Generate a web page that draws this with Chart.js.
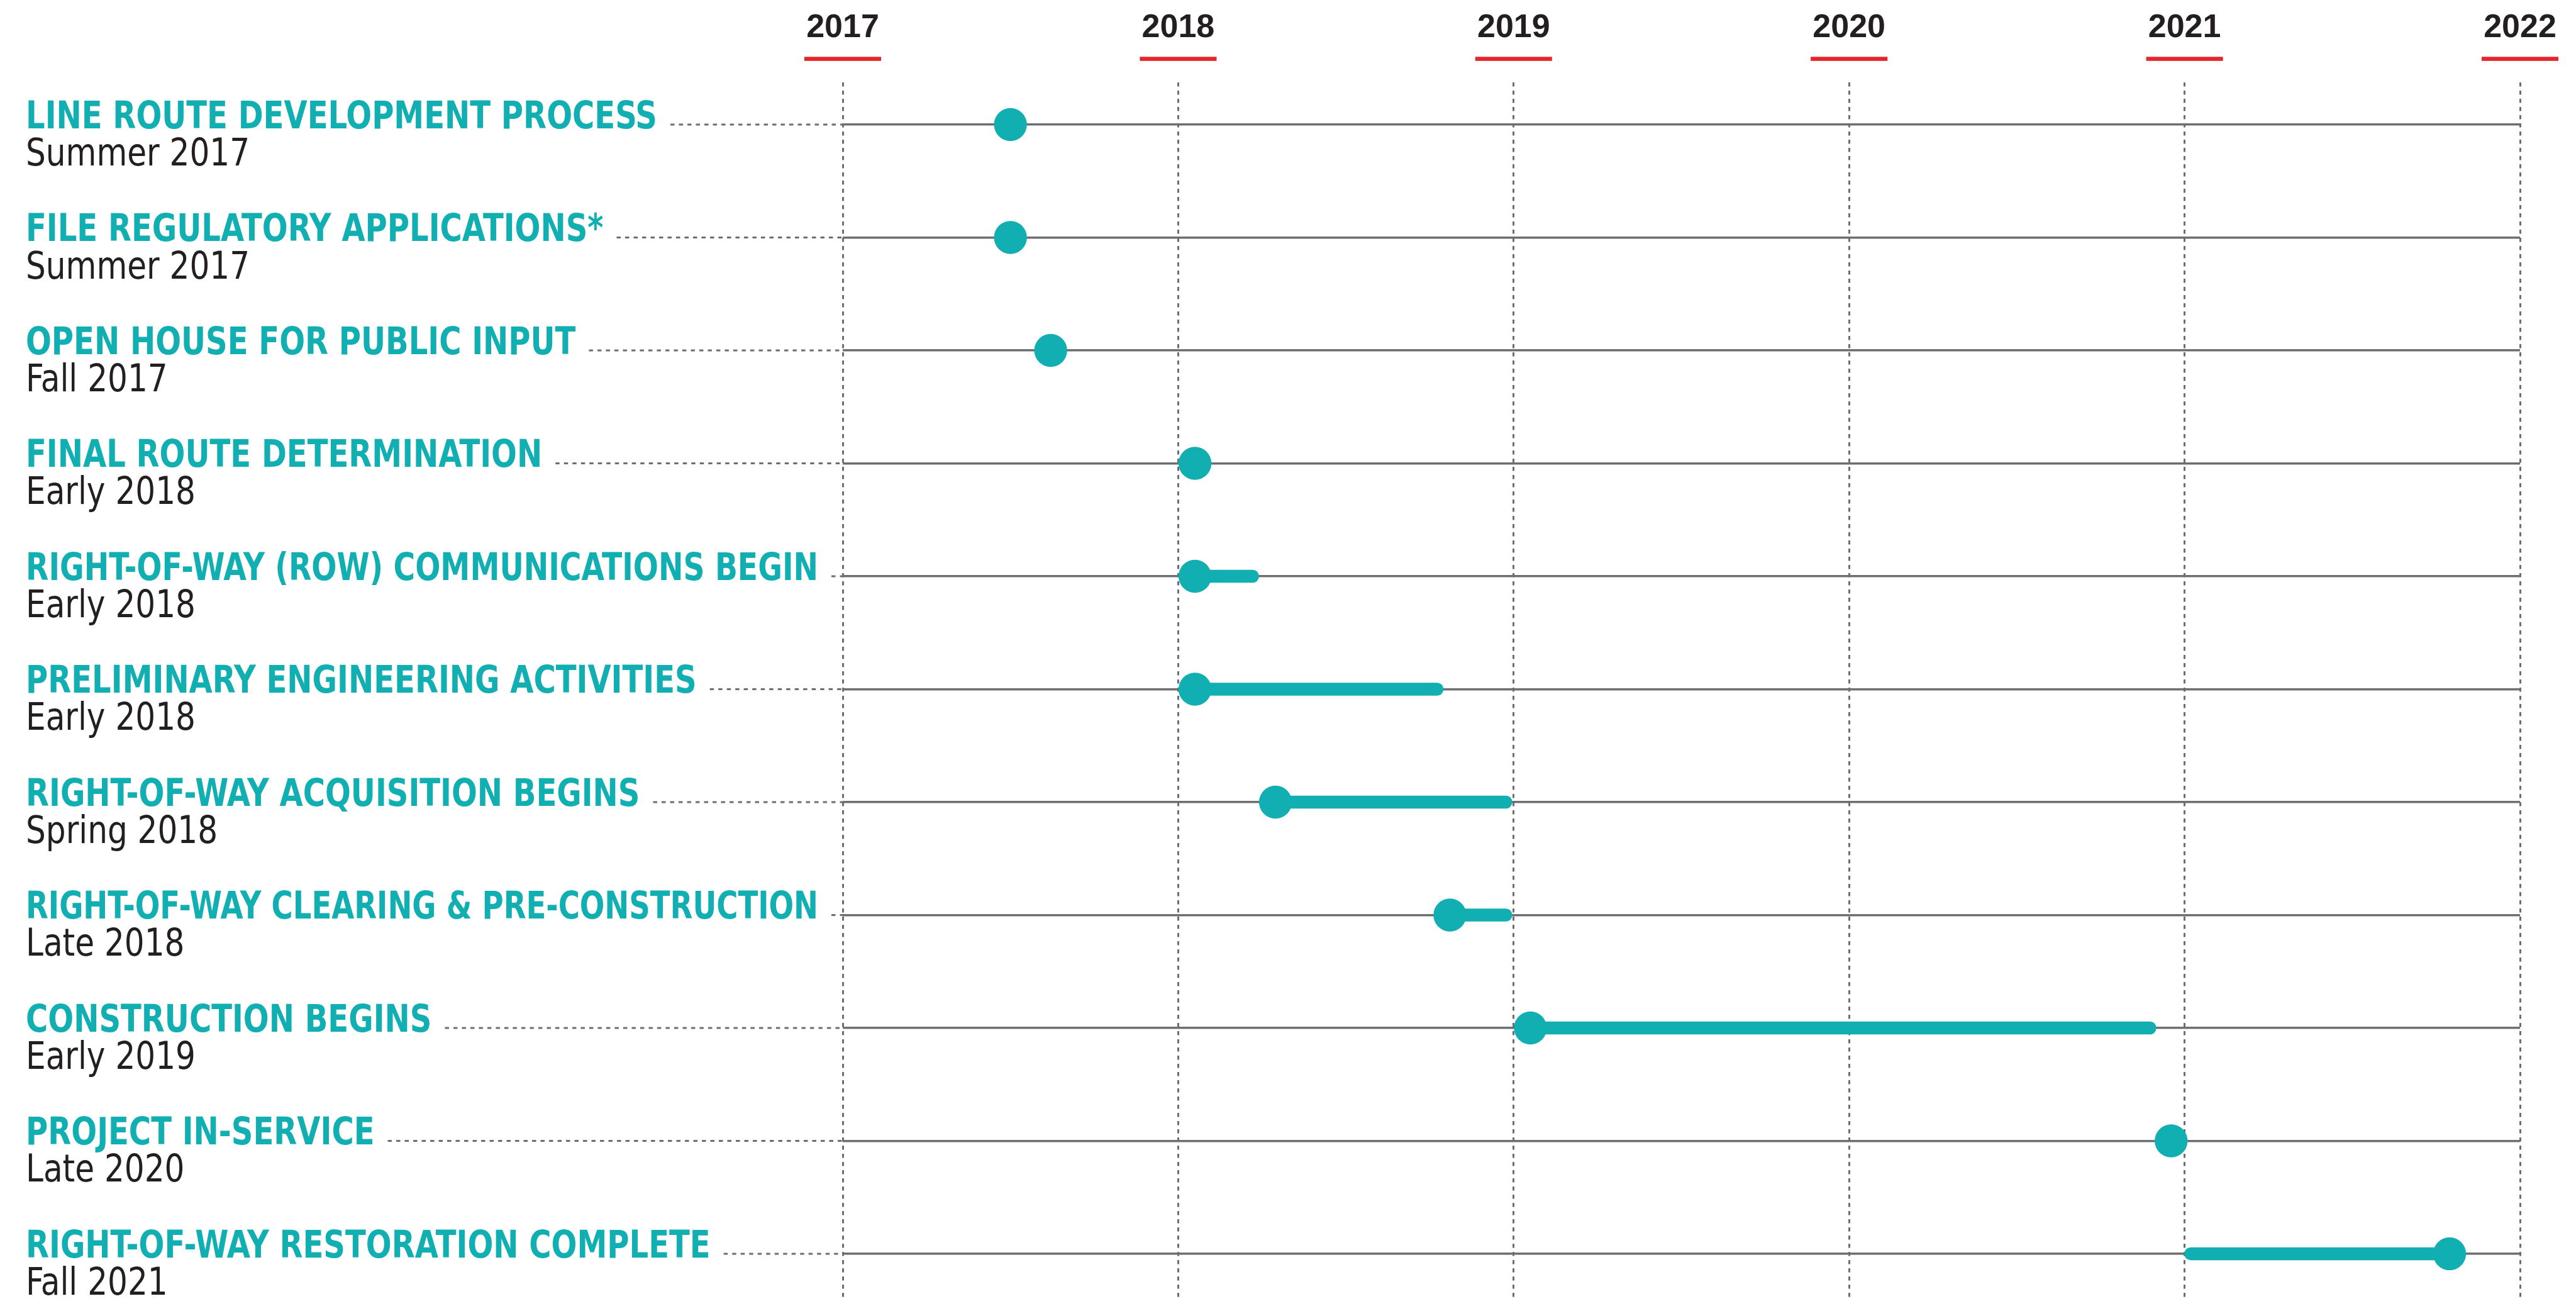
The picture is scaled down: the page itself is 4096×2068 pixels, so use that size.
<!DOCTYPE html>
<html>
<head>
<meta charset="utf-8">
<script src="https://cdn.jsdelivr.net/npm/chart.js@4.4.1/dist/chart.umd.min.js"></script>
<style>html,body{margin:0;padding:0;background:#fff;overflow:hidden}canvas{display:block}</style>
</head>
<body>
<canvas id="c" width="4096" height="2068"></canvas>
<script>
// ---- data ----
const milestones = [
  'LINE ROUTE DEVELOPMENT PROCESS',
  'FILE REGULATORY APPLICATIONS*',
  'OPEN HOUSE FOR PUBLIC INPUT',
  'FINAL ROUTE DETERMINATION',
  'RIGHT-OF-WAY (ROW) COMMUNICATIONS BEGIN',
  'PRELIMINARY ENGINEERING ACTIVITIES',
  'RIGHT-OF-WAY ACQUISITION BEGINS',
  'RIGHT-OF-WAY CLEARING & PRE-CONSTRUCTION',
  'CONSTRUCTION BEGINS',
  'PROJECT IN-SERVICE',
  'RIGHT-OF-WAY RESTORATION COMPLETE'
];
const milestoneDates = [
  'Summer 2017', 'Summer 2017', 'Fall 2017', 'Early 2018', 'Early 2018', 'Early 2018',
  'Spring 2018', 'Late 2018', 'Early 2019', 'Late 2020', 'Fall 2021'
];
const dotYears = [2017.50, 2017.50, 2017.62, 2018.05, 2018.05, 2018.05, 2018.29, 2018.81, 2019.05, 2020.96, 2021.79];
const barRows   = [4, 5, 6, 7, 8, 10];
const barStarts = [2018.05, 2018.05, 2018.29, 2018.81, 2019.05, 2021.00];
const barEnds   = [2018.24, 2018.79, 2018.995, 2018.995, 2020.915, 2021.79];
const yearTicks = [2017, 2018, 2019, 2020, 2021, 2022];

// ---- styles ----
const TEAL = '#11aeb2', GRAY = '#6d6e71', RED = '#e3262a', INK = '#231f20';
const TITLE_FONT = 'bold 61px "Liberation Sans Narrow", "DejaVu Sans Condensed", sans-serif';
const DATE_FONT = '61px "Liberation Sans Narrow", "DejaVu Sans Condensed", sans-serif';

const labelPlugin = {
  id: 'milestoneLabels',
  afterDraw(chart) {
    const ctx = chart.ctx, ys = chart.scales.y, xs = chart.scales.x;
    ctx.save();
    ctx.textAlign = 'left';
    ctx.textBaseline = 'alphabetic';
    ctx.font = TITLE_FONT;
    const titleScale = 1004 / ctx.measureText(milestones[0]).width;
    ctx.font = DATE_FONT;
    const dateScale = 356 / ctx.measureText(milestoneDates[0]).width;
    const left = 41;
    const x0 = xs.getPixelForValue(yearTicks[0]);
    const maxTitleW = x0 - left - 39;
    milestones.forEach((t, i) => {
      const y = ys.getPixelForValue(i);
      ctx.font = TITLE_FONT;
      ctx.fillStyle = TEAL;
      const raw = ctx.measureText(t).width;
      const sx = Math.min(titleScale, maxTitleW / raw);
      const w = raw * sx;
      ctx.save();
      ctx.translate(left, y + 5.6);
      ctx.scale(sx, 1);
      ctx.fillText(t, 0, 0);
      ctx.restore();
      ctx.strokeStyle = GRAY;
      ctx.lineWidth = 3;
      ctx.setLineDash([6.5, 7]);
      ctx.beginPath();
      ctx.moveTo(left + w + 21, y);
      ctx.lineTo(x0, y);
      ctx.stroke();
      ctx.setLineDash([]);
      ctx.font = DATE_FONT;
      ctx.fillStyle = INK;
      ctx.save();
      ctx.translate(left, y + 65);
      ctx.scale(dateScale, 1);
      ctx.fillText(milestoneDates[i], 0, 0);
      ctx.restore();
    });
    ctx.fillStyle = RED;
    xs.ticks.forEach(tk => {
      const x = xs.getPixelForValue(tk.value);
      ctx.fillRect(x - 61, 90.3, 122, 6.5);
    });
    ctx.restore();
  }
};

new Chart(document.getElementById('c'), {
  type: 'bar',
  data: {
    datasets: [
      {
        type: 'scatter',
        data: dotYears.map((x, i) => ({ x, y: i })),
        backgroundColor: TEAL,
        borderWidth: 0,
        pointRadius: 26.2,
        pointHoverRadius: 26.2,
        order: 0,
        clip: false
      },
      {
        type: 'bar',
        indexAxis: 'y',
        data: barRows.map((r, k) => ({ y: r, x: [barStarts[k], barEnds[k]] })),
        backgroundColor: TEAL,
        barThickness: 20,
        borderRadius: 10,
        borderSkipped: false,
        order: 1,
        clip: false
      }
    ]
  },
  options: {
    responsive: false,
    animation: false,
    devicePixelRatio: 1,
    events: [],
    layout: { autoPadding: false, padding: { left: 1340, right: 89, top: 0, bottom: 0 } },
    plugins: { legend: { display: false }, tooltip: { enabled: false } },
    scales: {
      x: {
        type: 'linear', position: 'top', min: 2017, max: 2022, offset: false,
        afterBuildTicks: s => { s.ticks = yearTicks.map(v => ({ value: v })); },
        afterFit: s => { s.height = 131; s.paddingLeft = 0; s.paddingRight = 0; },
        ticks: {
          callback: v => String(v),
          font: { family: '"Liberation Sans", Arial, sans-serif', weight: 'bold', size: 52, lineHeight: 1.2 },
          color: INK, padding: 55, autoSkip: false, maxRotation: 0
        },
        grid: { color: GRAY, lineWidth: 3, drawTicks: false, offset: false },
        border: { display: false, dash: [6.5, 6.5] }
      },
      y: {
        type: 'linear', reverse: true, min: -0.3733, max: 10.418, offset: false,
        afterBuildTicks: s => { s.ticks = milestones.map((_, i) => ({ value: i })); },
        afterFit: s => { s.width = 0; s.paddingTop = 0; s.paddingBottom = 0; },
        ticks: { display: false },
        grid: { color: GRAY, lineWidth: 3.4, drawTicks: false, offset: false },
        border: { display: false }
      }
    }
  },
  plugins: [labelPlugin]
});
</script>
</body>
</html>
